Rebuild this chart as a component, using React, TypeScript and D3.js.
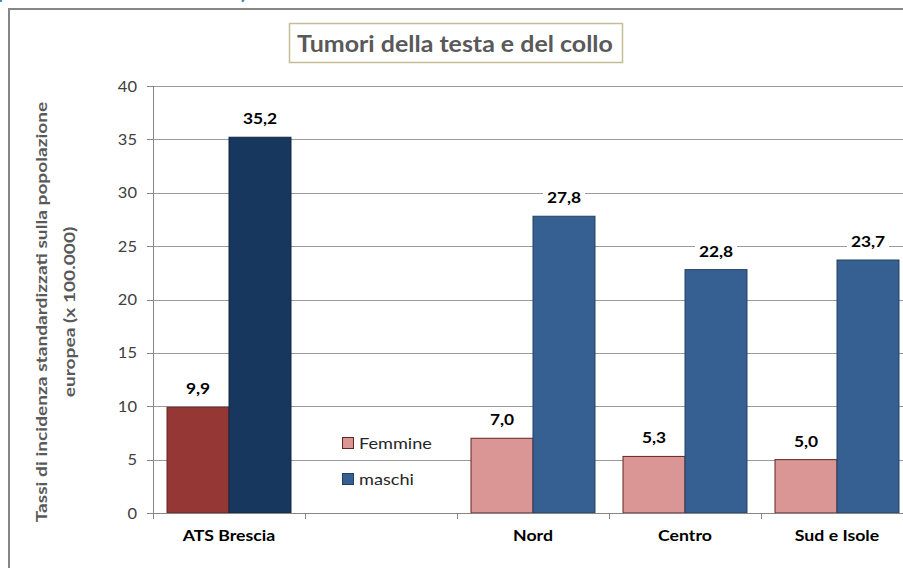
import React from "react";
import * as d3 from "d3";

const categories = ["ATS Brescia", "", "Nord", "Centro", "Sud e Isole"];
const femmine: (number | null)[] = [9.9, null, 7.0, 5.3, 5.0];
const maschi: (number | null)[] = [35.2, null, 27.8, 22.8, 23.7];
const yTicks = [0, 5, 10, 15, 20, 25, 30, 35, 40];
const seriesNames = ["Femmine", "maschi"];

const W = 903;
const H = 568;
const FONT = "Lato, 'Open Sans', sans-serif";

const fmt = (v: number) => d3.format(".1f")(v).replace(".", ",");

type TProps = {
  x: number;
  y: number;
  sx?: number;
  anchor?: "start" | "middle" | "end";
  size: number;
  weight?: number;
  fill: string;
  children: React.ReactNode;
};
function T({ x, y, sx = 1.1, anchor = "start", size, weight = 400, fill, children }: TProps) {
  return (
    <g transform={`translate(${x},${y}) scale(${sx},1)`}>
      <text x={0} y={0} textAnchor={anchor} fill={fill} fontFamily={FONT} fontWeight={weight} fontSize={size}>
        {children}
      </text>
    </g>
  );
}

export default function App() {
  const x0 = d3
    .scaleBand<string>()
    .domain(categories.map((_, i) => String(i)))
    .range([153, 913])
    .padding(0);
  const x1 = d3
    .scaleBand<string>()
    .domain(["F", "M"])
    .range([0, x0.bandwidth()])
    .paddingInner(0)
    .paddingOuter(0.226);
  const y = d3.scaleLinear().domain([0, 40]).range([513, 86]);

  const colF = (i: number) => (i === 0 ? "#953735" : "#D99694");
  const colM = (i: number) => (i === 0 ? "#17375E" : "#376092");
  const strokeF = "#632523";
  const strokeM = (i: number) => (i === 0 ? "#10263F" : "#254061");

  const labels: { x: number; y: number; t: string }[] = [];
  categories.forEach((_, i) => {
    const bx = x0(String(i))!;
    const f = femmine[i];
    const m = maschi[i];
    if (f != null) labels.push({ x: bx + x1("F")! + x1.bandwidth() / 2, y: y(f) - 13, t: fmt(f) });
    if (m != null) labels.push({ x: bx + x1("M")! + x1.bandwidth() / 2, y: y(m) - 13, t: fmt(m) });
  });

  return (
    <svg width={W} height={H} style={{ display: "block", position: "absolute", left: 0, top: 0, background: "#fff" }}>
      <rect x={0} y={0} width={W} height={H} fill="#fff" />
      {/* cut-off heading above */}
      <text x={-3} y={-1} fill="#31859C" fontFamily={FONT} fontSize={20} fontWeight={700}>(</text>
      <text x={241} y={-1} fill="#31859C" fontFamily={FONT} fontSize={20} fontWeight={700}>)</text>
      {/* frame */}
      <rect x={9} y={9} width={W + 20} height={H + 20} fill="none" stroke="#868686" strokeWidth={2} />
      {/* title */}
      <rect x={289.5} y={23.5} width={333} height={39} fill="#fff" stroke="#C4BD97" strokeWidth={1.5} />
      <T x={455} y={51.5} sx={1.11} anchor="middle" fill="#595959" weight={700} size={22.5}>
        Tumori della testa e del collo
      </T>
      {/* gridlines */}
      {yTicks.map((t) => (
        <g key={t}>
          {t > 0 && <line x1={153} x2={W} y1={Math.round(y(t)) + 0.5} y2={Math.round(y(t)) + 0.5} stroke="#9A9A9A" strokeWidth={1} />}
          <line x1={147} x2={153} y1={Math.round(y(t)) + 0.5} y2={Math.round(y(t)) + 0.5} stroke="#868686" />
          <T x={137} y={y(t) + 5.5} sx={1.1} anchor="end" fill="#404040" size={15}>
            {t}
          </T>
        </g>
      ))}
      {/* y axis title */}
      <g transform="translate(47,312) rotate(-90) scale(1.235,1)">
        <text x={0} y={0} textAnchor="middle" fill="#595959" fontFamily={FONT} fontWeight={700} fontSize={15.5}>
          Tassi di incidenza standardizzati sulla popolazione
        </text>
        <text x={0} y={28} textAnchor="middle" fill="#595959" fontFamily={FONT} fontWeight={700} fontSize={15.5}>
          europea (x 100.000)
        </text>
      </g>
      {/* bars */}
      {categories.map((c, i) => {
        const bx = x0(String(i))!;
        const f = femmine[i];
        const m = maschi[i];
        return (
          <g key={i}>
            {f != null && (
              <rect x={bx + x1("F")!} y={y(f)} width={x1.bandwidth()} height={y(0) - y(f)} fill={colF(i)} stroke={strokeF} strokeWidth={1} />
            )}
            {m != null && (
              <rect x={bx + x1("M")!} y={y(m)} width={x1.bandwidth()} height={y(0) - y(m)} fill={colM(i)} stroke={strokeM(i)} strokeWidth={1} />
            )}
          </g>
        );
      })}
      {/* x axis */}
      <line x1={153} x2={W} y1={513.5} y2={513.5} stroke="#868686" />
      <line x1={153.5} x2={153.5} y1={86} y2={519} stroke="#868686" />
      {categories.map((c, i) => (
        <g key={"t" + i}>
          <line x1={Math.round(x0(String(i))!) + 0.5} x2={Math.round(x0(String(i))!) + 0.5} y1={513} y2={519} stroke="#868686" />
          <T x={x0(String(i))! + x0.bandwidth() / 2} y={541} sx={1.12} anchor="middle" fill="#000" weight={700} size={15.8}>
            {c}
          </T>
        </g>
      ))}
      {/* value labels */}
      {labels.map((l, k) => (
        <g key={"l" + k}>
          <rect x={l.x - 21} y={l.y - 14} width={42} height={19} fill="#fff" />
          <T x={l.x} y={l.y} sx={1.12} anchor="middle" fill="#000" weight={700} size={15.5}>
            {l.t}
          </T>
        </g>
      ))}
      {/* legend */}
      {seriesNames.map((s, k) => (
        <g key={s}>
          <rect x={342.5} y={437.5 + k * 36} width={11} height={11} fill={k === 0 ? "#D99694" : "#376092"} stroke={k === 0 ? strokeF : "#254061"} />
          <T x={359} y={448.5 + k * 36} sx={1.17} fill="#262626" size={15.5}>
            {s}
          </T>
        </g>
      ))}
    </svg>
  );
}
